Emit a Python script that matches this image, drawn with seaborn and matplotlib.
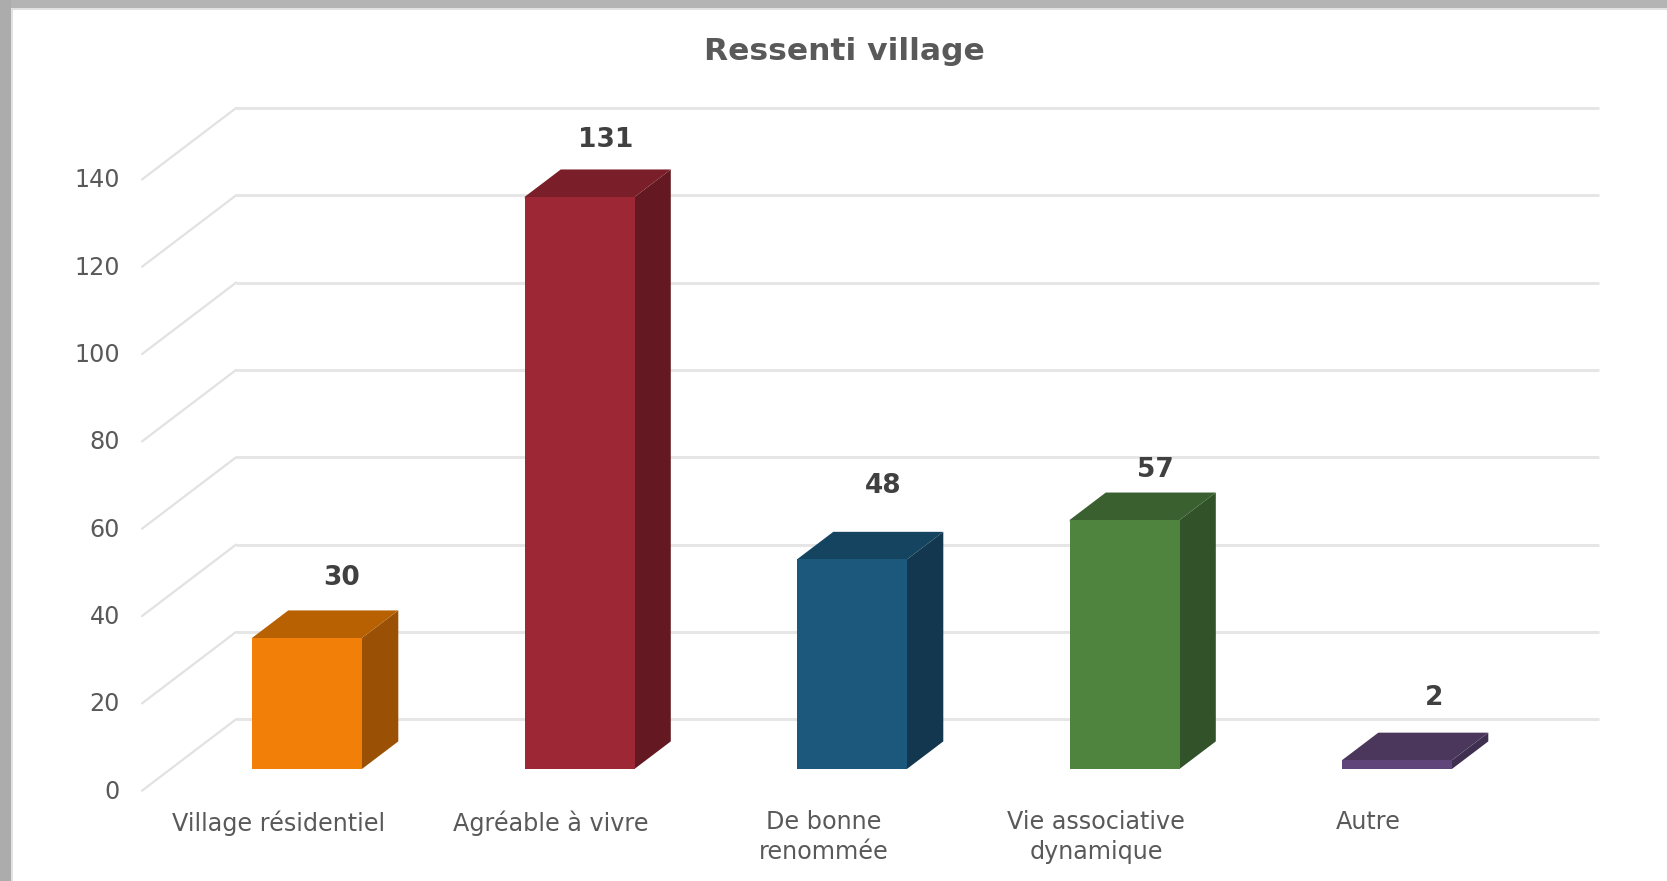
import matplotlib
matplotlib.use("Agg")
import matplotlib.pyplot as plt
from matplotlib.patches import Polygon, Rectangle
import numpy as np
import pandas as pd
import seaborn as sns

# --- data
categories = ["Village résidentiel", "Agréable à vivre", "De bonne\nrenommée",
              "Vie associative\ndynamique", "Autre"]
values = [30, 131, 48, 57, 2]
y_ticks = [0, 20, 40, 60, 80, 100, 120, 140]
title = "Ressenti village"

# --- styles
front_colors = ["#F27F07", "#9E2735", "#1C587C", "#4F843E", "#5F4579"]
top_colors = ["#B86103", "#7A1F29", "#154460", "#3A6030", "#4B375C"]
side_colors = ["#9A5105", "#641922", "#12374F", "#325229", "#3F2F50"]
label_offsets_px = [(34, 60), (26, 57), (31, 73), (31, 50), (37, 62)]

W, H, DPI = 1667, 881, 100
PX_PER_CAT = 272.5
PX_PER_UNIT = 4.366
X0_PX, Y0_PX = 307.3, 768.7          # position of the first category / value 0 on the front plane
AX_L, AX_R, AX_T, AX_B = 130, 1620, 60, 800

sns.set_theme(style="white")
plt.rcParams["font.family"] = ["DejaVu Sans"]

fig = plt.figure(figsize=(W / DPI, H / DPI), dpi=DPI, facecolor="white")
ax = fig.add_axes([AX_L / W, 1 - AX_B / H, (AX_R - AX_L) / W, (AX_B - AX_T) / H])

df = pd.DataFrame({"cat": categories, "val": values})
sns.barplot(data=df, x="cat", y="val", hue="cat", palette=front_colors, saturation=1,
            width=110 / PX_PER_CAT, legend=False, ax=ax, zorder=3, linewidth=0)

ax.set_xlim((AX_L - X0_PX) / PX_PER_CAT, (AX_R - X0_PX) / PX_PER_CAT)
ax.set_ylim((Y0_PX - AX_B) / PX_PER_UNIT, (Y0_PX - AX_T) / PX_PER_UNIT)

# depth of the pseudo 3D projection, in data units
bar_dx = 36 / PX_PER_CAT
bar_dy = 27.3 / PX_PER_UNIT
seam_x, seam_y = 2 / PX_PER_CAT, 2 / PX_PER_UNIT   # faces slide under the front to hide seams
wall_x0 = (236 - X0_PX) / PX_PER_CAT
wall_x1 = (1599 - X0_PX) / PX_PER_CAT
wall_dy = (Y0_PX - 719.3) / PX_PER_UNIT
floor_x = (142 - X0_PX) / PX_PER_CAT
floor_dy = (Y0_PX - 790.7) / PX_PER_UNIT
tick_dy = floor_dy + 1.5 / PX_PER_UNIT

# back wall grid and side wall lines
for v in y_ticks:
    ax.plot([wall_x0, wall_x1], [v + wall_dy, v + wall_dy], color="#E6E6E6", lw=2.2,
            solid_capstyle="butt", zorder=1)
    ax.plot([floor_x, wall_x0], [v + floor_dy, v + wall_dy], color="#E2E2E2", lw=1.6,
            zorder=1)

# side and top faces of each bar
for bar, top_c, side_c in zip(ax.patches, top_colors, side_colors):
    x, w, h = bar.get_x(), bar.get_width(), bar.get_height()
    ax.add_patch(Polygon([(x + w - seam_x, 0), (x + w, 0), (x + w + bar_dx, bar_dy),
                          (x + w + bar_dx, h + bar_dy), (x + w, h), (x + w - seam_x, h)],
                         closed=True, facecolor=side_c, edgecolor="none", zorder=2))
    ax.add_patch(Polygon([(x, h - seam_y), (x, h), (x + bar_dx, h + bar_dy),
                          (x + w + bar_dx, h + bar_dy), (x + w, h), (x + w, h - seam_y)],
                         closed=True, facecolor=top_c, edgecolor="none", zorder=2.5))

# value labels
for i, (v, (ox, oy)) in enumerate(zip(values, label_offsets_px)):
    ax.annotate(str(v), xy=(i, v), xytext=(ox * 72 / DPI, oy * 72 / DPI),
                textcoords="offset points", ha="center", va="center",
                fontsize=19, fontweight="bold", color="#404040", zorder=5)

# axes
ax.set_yticks(np.array(y_ticks) + tick_dy, [str(t) for t in y_ticks])
label_shift = -28.8 / PX_PER_CAT
ax.set_xticks(np.arange(len(categories)) + label_shift, categories)
ax.tick_params(axis="y", length=0, pad=10 * 72 / DPI, labelsize=17.2, labelcolor="#595959")
ax.tick_params(axis="x", length=0, pad=10 * 72 / DPI, labelsize=17.2, labelcolor="#595959")
for lbl in ax.get_xticklabels():
    lbl.set_linespacing(1.3)
ax.set_xlabel("")
ax.set_ylabel("")
sns.despine(ax=ax, left=True, bottom=True)
ax.patch.set_alpha(0)

ax.set_title(title, x=(844 - AX_L) / (AX_R - AX_L), pad=0, fontsize=22.6,
             fontweight="bold", color="#595959")

# window frame remaining around the chart
fig.add_artist(Rectangle((0, 1 - 8 / H), 1, 8 / H, transform=fig.transFigure,
                         facecolor="#B4B4B4", edgecolor="none"))
fig.add_artist(Rectangle((0, 1 - 10 / H), 1, 2 / H, transform=fig.transFigure,
                         facecolor="#E2E2E2", edgecolor="none"))
fig.add_artist(Rectangle((0, 0), 11 / W, 1, transform=fig.transFigure,
                         facecolor="#ACACAC", edgecolor="none"))
fig.add_artist(Rectangle((11 / W, 0), 2 / W, 1 - 8 / H, transform=fig.transFigure,
                         facecolor="#E2E2E2", edgecolor="none"))

fig.savefig("out.png", dpi=DPI)
